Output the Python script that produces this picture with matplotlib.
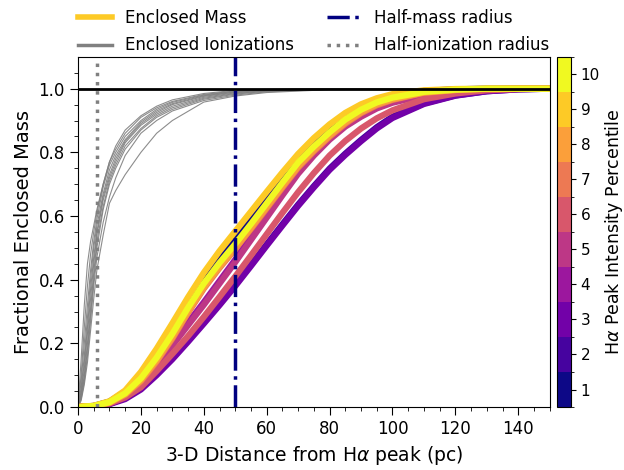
import numpy as np
import matplotlib
matplotlib.use("Agg")
import matplotlib.pyplot as plt
from matplotlib.lines import Line2D
from matplotlib.colors import BoundaryNorm
from matplotlib.cm import ScalarMappable

# distance grid (pc) for the enclosed-mass curves
r_mass = [0, 5, 10, 15, 20, 25, 30, 35, 40, 45, 50, 55, 60, 65, 70, 75, 80,
          85, 90, 95, 100, 110, 120, 130, 140, 150]

# enclosed mass fraction per H-alpha peak intensity percentile (1..10)
mass_p1 = [0, 0.0035, 0.017, 0.048, 0.100, 0.170, 0.248, 0.330, 0.405, 0.470, 0.530, 0.594, 0.658,
           0.720, 0.780, 0.830, 0.875, 0.913, 0.942, 0.963, 0.977, 0.993, 0.998, 1, 1, 1]
mass_p2 = [0, 0.002, 0.010, 0.028, 0.059, 0.104, 0.154, 0.209, 0.266, 0.324, 0.384, 0.447, 0.511,
           0.574, 0.636, 0.694, 0.749, 0.796, 0.839, 0.879, 0.912, 0.954, 0.979, 0.992, 0.998, 1]
mass_p3 = [0, 0.002, 0.009, 0.025, 0.055, 0.100, 0.150, 0.205, 0.262, 0.320, 0.380, 0.443, 0.507,
           0.570, 0.632, 0.690, 0.745, 0.792, 0.835, 0.875, 0.908, 0.952, 0.978, 0.992, 0.998, 1]
mass_p4 = [0, 0.003, 0.014, 0.039, 0.078, 0.138, 0.201, 0.265, 0.329, 0.396, 0.463, 0.533, 0.603,
           0.673, 0.741, 0.797, 0.846, 0.886, 0.916, 0.941, 0.959, 0.981, 0.993, 0.998, 1, 1]
mass_p5 = [0, 0.003, 0.013, 0.036, 0.073, 0.131, 0.193, 0.257, 0.321, 0.388, 0.455, 0.525, 0.595,
           0.665, 0.733, 0.790, 0.840, 0.881, 0.912, 0.938, 0.956, 0.979, 0.992, 0.998, 1, 1]
mass_p6 = [0, 0.0025, 0.011, 0.030, 0.062, 0.113, 0.167, 0.223, 0.283, 0.346, 0.410, 0.476, 0.543,
           0.610, 0.675, 0.735, 0.790, 0.836, 0.875, 0.907, 0.932, 0.967, 0.985, 0.995, 0.999, 1]
mass_p7 = [0, 0.003, 0.013, 0.038, 0.081, 0.142, 0.215, 0.296, 0.372, 0.437, 0.496, 0.559, 0.624,
           0.689, 0.752, 0.803, 0.849, 0.890, 0.923, 0.948, 0.965, 0.987, 0.996, 0.999, 1, 1]
mass_p8 = [0, 0.003, 0.014, 0.040, 0.084, 0.146, 0.219, 0.300, 0.376, 0.441, 0.500, 0.563, 0.628,
           0.693, 0.756, 0.807, 0.853, 0.894, 0.926, 0.951, 0.967, 0.988, 0.996, 1, 1, 1]
mass_p9 = [0, 0.004, 0.018, 0.052, 0.110, 0.183, 0.263, 0.345, 0.422, 0.490, 0.552, 0.614, 0.676,
           0.737, 0.795, 0.845, 0.888, 0.924, 0.951, 0.970, 0.983, 0.995, 0.999, 1, 1, 1]
mass_p10 = [0, 0.003, 0.015, 0.043, 0.090, 0.155, 0.230, 0.312, 0.388, 0.453, 0.512, 0.575, 0.640,
            0.705, 0.768, 0.818, 0.863, 0.903, 0.934, 0.957, 0.972, 0.990, 0.997, 1, 1, 1]
mass_curves = [mass_p1, mass_p2, mass_p3, mass_p4, mass_p5,
               mass_p6, mass_p7, mass_p8, mass_p9, mass_p10]

# distance grid (pc) for the enclosed-ionization curves
r_ion = [0, 1, 2, 3, 4, 5, 6, 8, 10, 12, 15, 20, 25, 30, 40, 50, 60, 80, 150]
ion_curves = [
    [0, 0.15, 0.32, 0.45, 0.52, 0.57, 0.62, 0.70, 0.77, 0.82, 0.87, 0.915, 0.945, 0.965, 0.985, 0.995, 0.998, 1, 1],
    [0, 0.10, 0.25, 0.38, 0.48, 0.55, 0.61, 0.70, 0.77, 0.81, 0.86, 0.91, 0.94, 0.96, 0.982, 0.993, 0.997, 1, 1],
    [0, 0.08, 0.20, 0.32, 0.43, 0.52, 0.59, 0.69, 0.76, 0.80, 0.85, 0.90, 0.935, 0.957, 0.98, 0.992, 0.997, 1, 1],
    [0, 0.06, 0.16, 0.28, 0.40, 0.50, 0.57, 0.67, 0.745, 0.79, 0.84, 0.895, 0.93, 0.953, 0.978, 0.99, 0.996, 1, 1],
    [0, 0.05, 0.14, 0.25, 0.37, 0.47, 0.55, 0.66, 0.73, 0.78, 0.835, 0.89, 0.925, 0.95, 0.976, 0.989, 0.995, 0.999, 1],
    [0, 0.04, 0.12, 0.23, 0.34, 0.45, 0.54, 0.65, 0.72, 0.77, 0.83, 0.885, 0.92, 0.945, 0.973, 0.987, 0.994, 0.999, 1],
    [0, 0.035, 0.10, 0.20, 0.31, 0.42, 0.52, 0.63, 0.71, 0.76, 0.82, 0.875, 0.915, 0.94, 0.97, 0.985, 0.993, 0.999, 1],
    [0, 0.03, 0.09, 0.18, 0.29, 0.40, 0.50, 0.62, 0.70, 0.75, 0.81, 0.87, 0.91, 0.935, 0.967, 0.983, 0.992, 0.998, 1],
    [0, 0.025, 0.08, 0.16, 0.27, 0.38, 0.47, 0.58, 0.66, 0.72, 0.79, 0.86, 0.90, 0.93, 0.963, 0.98, 0.99, 0.998, 1],
    [0, 0.02, 0.07, 0.14, 0.24, 0.34, 0.43, 0.54, 0.64, 0.68, 0.73, 0.80, 0.86, 0.90, 0.958, 0.977, 0.988, 0.997, 1],
]

percentiles = list(range(1, 11))
half_mass_r = 50
half_ion_r = 5.9

cmap = plt.get_cmap('plasma', 10)
norm = BoundaryNorm(np.arange(0.5, 11.5, 1), cmap.N)

fig = plt.figure(figsize=(6.24, 4.70), dpi=100)
ax = fig.add_axes([0.125, 0.134, 0.756, 0.745])
cax = fig.add_axes([0.893, 0.134, 0.022, 0.745])

for curve in ion_curves:
    ax.plot(r_ion, curve, color='gray', lw=0.8, alpha=0.9)

for p, curve in zip(percentiles, mass_curves):
    ax.plot(r_mass, curve, color=cmap(norm(p)), lw=4.5, solid_capstyle='butt')

ax.axhline(1.0, color='black', lw=2)
ax.axvline(half_mass_r, color='navy', lw=2.5, ls='-.')
ax.axvline(half_ion_r, color='gray', lw=2.5, ls=':')

ax.set_xlim(0, 150)
ax.set_ylim(0, 1.1)
ax.set_xticks(np.arange(0, 141, 20))
ax.set_xticks(np.arange(0, 151, 5), minor=True)
ax.set_yticks(np.arange(0, 1.01, 0.2))
ax.set_yticks(np.arange(0, 1.1, 0.05), minor=True)
ax.tick_params(labelsize=12, length=6)
ax.tick_params(which='minor', length=3)
ax.set_xlabel(r'3-D Distance from H$\alpha$ peak (pc)', fontsize=13.5)
ax.set_ylabel('Fractional Enclosed Mass', fontsize=14)

handles = [Line2D([], [], color=cmap(norm(9)), lw=4),
           Line2D([], [], color='gray', lw=2.5),
           Line2D([], [], color='navy', lw=2.5, ls='-.'),
           Line2D([], [], color='gray', lw=2.5, ls=':')]
labels = ['Enclosed Mass', 'Enclosed Ionizations', 'Half-mass radius', 'Half-ionization radius']
ax.legend(handles, labels, ncol=2, frameon=False, fontsize=12,
          loc='lower center', bbox_to_anchor=(0.5, 0.988), borderaxespad=0,
          columnspacing=2.0, handlelength=2.0, labelspacing=0.55)

sm = ScalarMappable(norm=norm, cmap=cmap)
cb = fig.colorbar(sm, cax=cax, ticks=percentiles)
cb.ax.tick_params(labelsize=11)
cb.set_label(r'H$\alpha$ Peak Intensity Percentile', fontsize=12.5, labelpad=2)

fig.savefig('out.png', dpi=100)
